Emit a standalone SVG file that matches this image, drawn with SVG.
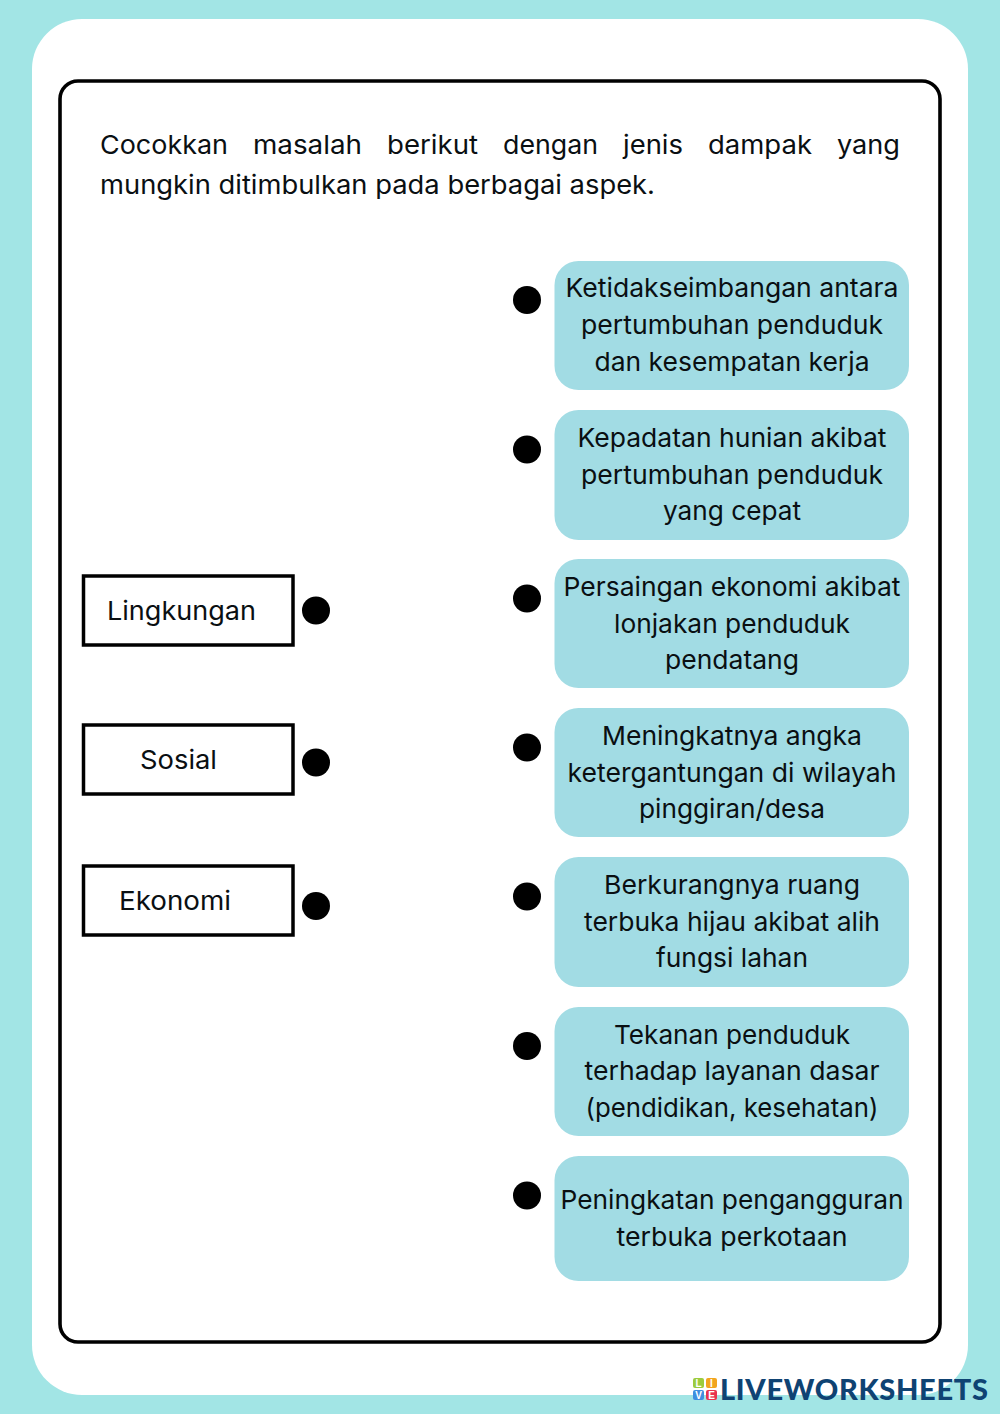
<svg xmlns="http://www.w3.org/2000/svg" width="1000" height="1414" viewBox="0 0 1000 1414">
<style>
text{font-family:"Inter","Liberation Sans",sans-serif;fill:#0a0f12;font-size:26px}
.m{text-anchor:middle}
.card{fill:#a2dce4}
.box{fill:#fff;stroke:#000;stroke-width:3.500}
.dot{fill:#000}
.lg{font-size:10px;font-weight:700;fill:#fff;text-anchor:middle;font-family:"Liberation Sans",sans-serif}
</style>
<rect width="1000" height="1414" fill="#a2e5e5"/>
<rect x="32" y="19" width="936" height="1376" rx="50" fill="#fff"/>
<rect x="60" y="81" width="880" height="1261" rx="18" fill="none" stroke="#000" stroke-width="3.600"/>
<g id="instruction">
<text x="100" y="154" textLength="128" lengthAdjust="spacingAndGlyphs">Cocokkan</text>
<text x="253" y="154" textLength="109" lengthAdjust="spacingAndGlyphs">masalah</text>
<text x="387" y="154" textLength="91" lengthAdjust="spacingAndGlyphs">berikut</text>
<text x="503" y="154" textLength="95" lengthAdjust="spacingAndGlyphs">dengan</text>
<text x="623" y="154" textLength="60" lengthAdjust="spacingAndGlyphs">jenis</text>
<text x="708" y="154" textLength="104" lengthAdjust="spacingAndGlyphs">dampak</text>
<text x="837" y="154" textLength="63" lengthAdjust="spacingAndGlyphs">yang</text>
<text x="100" y="194" textLength="555" lengthAdjust="spacingAndGlyphs">mungkin ditimbulkan pada berbagai aspek.</text>
</g>
<g id="connectors"></g>
<g id="left-lingkungan"><rect class="box" x="83.500" y="576" width="209.500" height="69"/><text x="107" y="620" textLength="149" lengthAdjust="spacingAndGlyphs">Lingkungan</text><circle class="dot" cx="316" cy="610.500" r="14"/></g>
<g id="left-sosial"><rect class="box" x="83.500" y="725" width="209.500" height="69"/><text x="140" y="769" textLength="77" lengthAdjust="spacingAndGlyphs">Sosial</text><circle class="dot" cx="316" cy="762.500" r="14"/></g>
<g id="left-ekonomi"><rect class="box" x="83.500" y="866" width="209.500" height="69"/><text x="119" y="910" textLength="112" lengthAdjust="spacingAndGlyphs">Ekonomi</text><circle class="dot" cx="316" cy="906" r="14"/></g>
<g id="right-1"><circle class="dot" cx="527" cy="300" r="14"/><rect class="card" x="554.500" y="261" width="354.500" height="129" rx="24"/>
<text class="m" x="732" y="297" textLength="333" lengthAdjust="spacingAndGlyphs">Ketidakseimbangan antara</text><text class="m" x="732" y="334" textLength="302" lengthAdjust="spacingAndGlyphs">pertumbuhan penduduk</text><text class="m" x="732" y="370.500" textLength="275" lengthAdjust="spacingAndGlyphs">dan kesempatan kerja</text></g>
<g id="right-2"><circle class="dot" cx="527" cy="449.500" r="14"/><rect class="card" x="554.500" y="410" width="354.500" height="130" rx="24"/>
<text class="m" x="732" y="447" textLength="309" lengthAdjust="spacingAndGlyphs">Kepadatan hunian akibat</text><text class="m" x="732" y="483.500" textLength="302" lengthAdjust="spacingAndGlyphs">pertumbuhan penduduk</text><text class="m" x="732" y="520" textLength="138" lengthAdjust="spacingAndGlyphs">yang cepat</text></g>
<g id="right-3"><circle class="dot" cx="527" cy="598.500" r="14"/><rect class="card" x="554.500" y="559" width="354.500" height="129" rx="24"/>
<text class="m" x="732" y="596" textLength="337" lengthAdjust="spacingAndGlyphs">Persaingan ekonomi akibat</text><text class="m" x="732" y="632.500" textLength="236" lengthAdjust="spacingAndGlyphs">lonjakan penduduk</text><text class="m" x="732" y="669" textLength="134" lengthAdjust="spacingAndGlyphs">pendatang</text></g>
<g id="right-4"><circle class="dot" cx="527" cy="747.500" r="14"/><rect class="card" x="554.500" y="708" width="354.500" height="129" rx="24"/>
<text class="m" x="732" y="745" textLength="260" lengthAdjust="spacingAndGlyphs">Meningkatnya angka</text><text class="m" x="732" y="781.500" textLength="329" lengthAdjust="spacingAndGlyphs">ketergantungan di wilayah</text><text class="m" x="732" y="818" textLength="186" lengthAdjust="spacingAndGlyphs">pinggiran/desa</text></g>
<g id="right-5"><circle class="dot" cx="527" cy="896.500" r="14"/><rect class="card" x="554.500" y="857" width="354.500" height="130" rx="24"/>
<text class="m" x="732" y="894" textLength="256" lengthAdjust="spacingAndGlyphs">Berkurangnya ruang</text><text class="m" x="732" y="930.500" textLength="296" lengthAdjust="spacingAndGlyphs">terbuka hijau akibat alih</text><text class="m" x="732" y="967" textLength="152" lengthAdjust="spacingAndGlyphs">fungsi lahan</text></g>
<g id="right-6"><circle class="dot" cx="527" cy="1046" r="14"/><rect class="card" x="554.500" y="1007" width="354.500" height="129" rx="24"/>
<text class="m" x="732" y="1043.500" textLength="236" lengthAdjust="spacingAndGlyphs">Tekanan penduduk</text><text class="m" x="732" y="1080" textLength="295" lengthAdjust="spacingAndGlyphs">terhadap layanan dasar</text><text class="m" x="732" y="1116.500" textLength="293" lengthAdjust="spacingAndGlyphs">(pendidikan, kesehatan)</text></g>
<g id="right-7"><circle class="dot" cx="527" cy="1195.500" r="14"/><rect class="card" x="554.500" y="1156" width="354.500" height="125" rx="24"/>
<text class="m" x="732" y="1209" textLength="343" lengthAdjust="spacingAndGlyphs">Peningkatan pengangguran</text><text class="m" x="732" y="1245.500" textLength="231" lengthAdjust="spacingAndGlyphs">terbuka perkotaan</text></g>
<g id="logo">
<rect x="693" y="1378" width="11" height="10" rx="2" fill="#9ccb3c"/><rect x="706" y="1378" width="11" height="10" rx="2" fill="#f2a51e"/>
<rect x="693" y="1390" width="11" height="10" rx="2" fill="#3f8fe0"/><rect x="706" y="1390" width="11" height="10" rx="2" fill="#e8344e"/>
<text class="lg" x="698.500" y="1387">L</text><text class="lg" x="711.500" y="1387">I</text><text class="lg" x="698.500" y="1399">V</text><text class="lg" x="711.500" y="1399">E</text>
<text x="720" y="1399.500" textLength="268" lengthAdjust="spacing" style="font-family:'Lato','Liberation Sans',sans-serif;font-weight:900;font-size:29px;fill:#0f4373">LIVEWORKSHEETS</text>
</g>
</svg>
